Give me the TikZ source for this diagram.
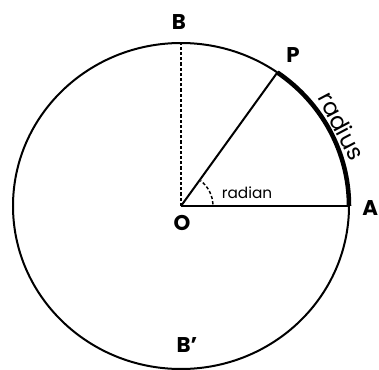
\documentclass[tikz,border=0pt]{standalone}
\usepackage{fontspec}
\setmainfont{Poppins}
\usetikzlibrary{calc}
\begin{document}
\begin{tikzpicture}[x=0.75pt,y=0.75pt,
  line/.style={line width=1.5pt},
  thickarc/.style={line width=3.4pt},
  dashline/.style={line width=1.2pt,dash pattern=on 2.4pt off 1.5pt},
  lbl/.style={font=\fontsize{16}{16}\selectfont\bfseries,inner sep=0pt}]
\useasboundingbox (0,0) rectangle (379,369);
\clip (0,0) rectangle (379,369);
\coordinate (O) at (181,163);
\coordinate (A) at (349,163);
\coordinate (B) at (181,326);
\coordinate (P) at ($(O)+(55:168 and 163)$);
% circle
\draw[line] (O) ellipse[x radius=168,y radius=163];
% thick arc A -> P
\draw[thickarc] (A) arc[start angle=0,end angle=55,x radius=168,y radius=163];
% radii
\draw[line] (O) -- (A);
\draw[line] (O) -- (P);
\draw[dashline] (O) -- (B);
% angle arc
\draw[line width=1.1pt,dash pattern=on 2.4pt off 1.6pt] ($(O)+(3:32)$) arc[start angle=3,end angle=52,radius=32];
% labels
\node[lbl] (lB) at (179,347) {B};
\node[lbl] (lP) at (293,314) {P};
\node[lbl] (lO) at (182,146) {O};
\node[lbl,anchor=west] (lA) at (362,161) {A};
\node[lbl] (lBp) at (187,24) {B’};
\node[font=\fontsize{11.5}{11.5}\selectfont,inner sep=0pt] (lrad) at (247,176) {radian};
\node[font=\fontsize{17.5}{17.5}\selectfont,inner sep=0pt,rotate=-62,anchor=base] (lradius) at ($(O)+(27:172 and 168)$) {radius};
\end{tikzpicture}
\end{document}
